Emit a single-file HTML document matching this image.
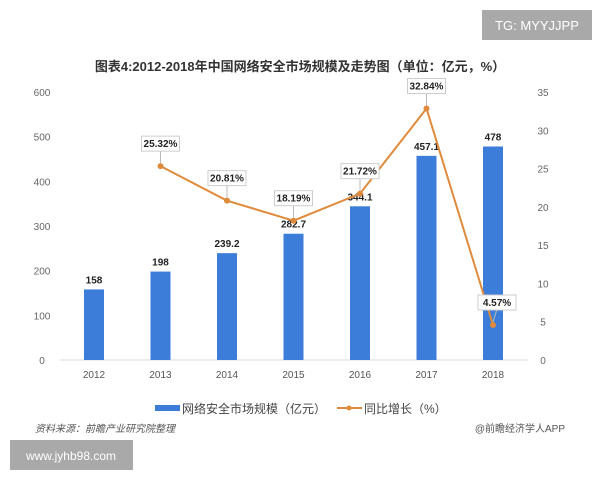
<!DOCTYPE html>
<html><head><meta charset="utf-8"><style>
body{margin:0;background:#fff;font-family:"Liberation Sans","Noto Sans CJK SC",sans-serif}
svg text{font-family:"Liberation Sans","Noto Sans CJK SC",sans-serif}
</style></head><body>
<svg id="c" width="600" height="480">
<rect x="482" y="10" width="110" height="30" fill="#a9a9a9"/>
<text x="537" y="30" font-size="13" fill="#fff" text-anchor="middle">TG: MYYJJPP</text>
<text x="300" y="71" font-size="13" font-weight="bold" fill="#333" text-anchor="middle">图表4:2012-2018年中国网络安全市场规模及走势图（单位：亿元，%）</text>
<g id="axes"></g><g id="bars"></g><g id="line"></g>
<g>
<rect x="155" y="405" width="25" height="6" fill="#3b7dd8"/>
<text x="182" y="413" font-size="12" fill="#444">网络安全市场规模（亿元）</text>
<line x1="337" y1="408" x2="362" y2="408" stroke="#e08a3c" stroke-width="2"/>
<circle cx="349" cy="408" r="2.5" fill="#e08a3c"/>
<text x="364" y="413" font-size="12" fill="#444">同比增长（%）</text>
</g>
<text x="35" y="432" font-size="10" font-style="italic" fill="#555">资料来源：前瞻产业研究院整理</text>
<text x="565" y="432" font-size="10" fill="#555" text-anchor="end">@前瞻经济学人APP</text>
<rect x="10" y="440" width="123" height="30" fill="#a9a9a9"/>
<text x="71" y="460" font-size="12" fill="#fff" text-anchor="middle">www.jyhb98.com</text>
</svg>
<script>
const years=["2012","2013","2014","2015","2016","2017","2018"];
const sizes=[158,198,239.2,282.7,344.1,457.1,478];
const growth=[null,25.32,20.81,18.19,21.72,32.84,4.57];
const leftTicks=[0,100,200,300,400,500,600];
const rightTicks=[0,5,10,15,20,25,30,35];
const NS="http://www.w3.org/2000/svg";
const y0=360,y1=92;
const yL=v=>y0-(v/600)*(y0-y1);
const yR=v=>y0-(v/35)*(y0-y1);
const xC=i=>94+i*66.5;
function mk(t,a,p){const e=document.createElementNS(NS,t);for(const k in a)e.setAttribute(k,a[k]);p.appendChild(e);return e;}
const ax=document.getElementById('axes'),bg=document.getElementById('bars'),lg=document.getElementById('line');
let e=mk('line',{x1:60,x2:528,y1:y0,y2:y0,stroke:'#d9d9d9'},ax);


leftTicks.forEach(v=>{const t=mk('text',{x:42,y:yL(v)+4,'font-size':10,fill:'#666','text-anchor':'middle'},ax);t.textContent=v;

});
rightTicks.forEach(v=>{const t=mk('text',{x:543,y:yR(v)+4,'font-size':10,fill:'#666','text-anchor':'middle'},ax);t.textContent=v;

});
years.forEach((y,i)=>{const t=mk('text',{x:xC(i),y:y0+18,'font-size':10,fill:'#555','text-anchor':'middle'},ax);t.textContent=y;

});
sizes.forEach((v,i)=>{const r=mk('rect',{x:xC(i)-10,y:yL(v),width:20,height:y0-yL(v),fill:'#3b7dd8'},bg);


const t=mk('text',{x:xC(i),y:yL(v)-6,'font-size':10,'font-weight':'bold',fill:'#222','text-anchor':'middle'},bg);t.textContent=v;

});
let pts=[];growth.forEach((v,i)=>{if(v!==null)pts.push([xC(i),yR(v)]);});
const pl=mk('polyline',{points:pts.map(p=>p.join(',')).join(' '),fill:'none',stroke:'#e08a3c','stroke-width':2},lg);


growth.forEach((v,i)=>{if(v===null)return;const cx=xC(i),cy=yR(v);
const c=mk('circle',{cx:cx,cy:cy,r:3,fill:'#e08a3c'},lg);


const ly=cy-22;
const lx=(i===years.length-1)?cx+4:cx;
const ln=mk('line',{x1:cx,y1:cy-3,x2:lx,y2:ly+6,stroke:'#bbb'},lg);


const b=mk('rect',{x:lx-19,y:ly-8,width:38,height:15,fill:'#fff',stroke:'#ccc'},lg);


const t=mk('text',{x:lx,y:ly+3,'font-size':10,'font-weight':'bold',fill:'#222','text-anchor':'middle'},lg);t.textContent=v.toFixed(2)+'%';

});
</script>
</body></html>
